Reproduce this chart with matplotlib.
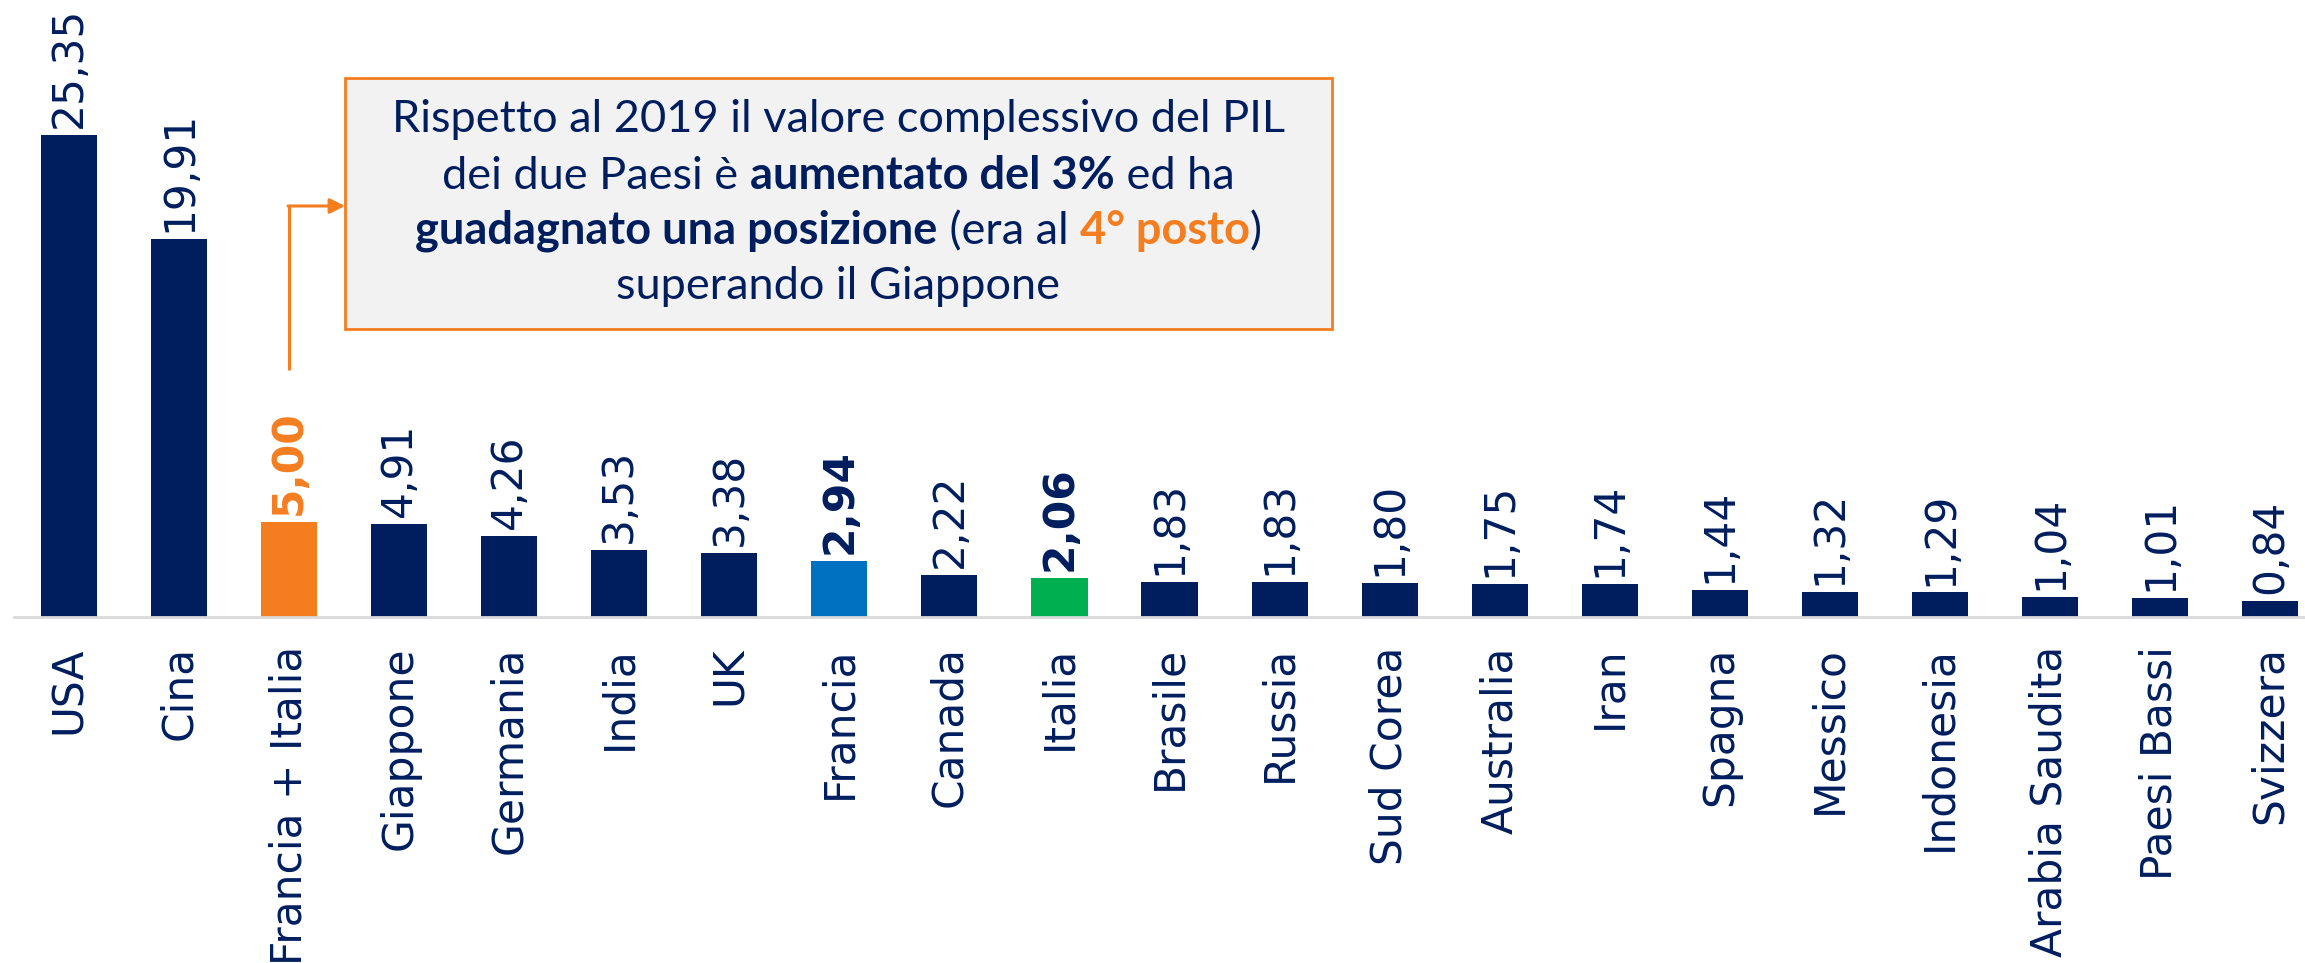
import matplotlib.pyplot as plt
from matplotlib.patches import Rectangle

# dati: PIL (migliaia di miliardi di $)
paesi = ['USA', 'Cina', 'Francia + Italia', 'Giappone', 'Germania', 'India', 'UK',
         'Francia', 'Canada', 'Italia', 'Brasile', 'Russia', 'Sud Corea', 'Australia',
         'Iran', 'Spagna', 'Messico', 'Indonesia', 'Arabia Saudita', 'Paesi Bassi', 'Svizzera']
pil = [25.35, 19.91, 5.00, 4.91, 4.26, 3.53, 3.38, 2.94, 2.22, 2.06, 1.83, 1.83,
       1.80, 1.75, 1.74, 1.44, 1.32, 1.29, 1.04, 1.01, 0.84]

NAVY = '#001E5E'
ORANGE = '#F47D20'
BLUE = '#0070C0'
GREEN = '#00B050'

colori = [NAVY] * len(paesi)
colori[paesi.index('Francia + Italia')] = ORANGE
colori[paesi.index('Francia')] = BLUE
colori[paesi.index('Italia')] = GREEN

evidenziati = ['Francia + Italia', 'Francia', 'Italia']

W, H = 2305, 963
fig = plt.figure(figsize=(W / 100, H / 100), dpi=100)
ax = fig.add_axes([14 / W, (H - 617) / H, 1 - 14 / W, 617 / H])

x = list(range(len(paesi)))
ax.bar(x, pil, width=0.51, color=colori, zorder=2)

for i, v in enumerate(pil):
    lab = f'{v:.2f}'.replace('.', ',')
    bold = paesi[i] in evidenziati
    col = ORANGE if paesi[i] == 'Francia + Italia' else NAVY
    ax.annotate(lab, (i, v), xytext=(0, 5), textcoords='offset points',
                rotation=90, ha='center', va='bottom', fontsize=30.5,
                color=col, fontweight='bold' if bold else 'normal')

ax.set_xlim(-0.5, -0.5 + 2291 / 110.05)
ax.set_ylim(0, 617 / 19.0)
ax.set_xticks(x)
ax.set_xticklabels(paesi, rotation=90, fontsize=30.5, color=NAVY, va='top')
ax.tick_params(axis='x', length=0, pad=21)
ax.set_yticks([])
for s in ['left', 'right', 'top']:
    ax.spines[s].set_visible(False)
ax.spines['bottom'].set_color('#D9D9D9')
ax.spines['bottom'].set_linewidth(2)

# riquadro di commento
bx0, by0, bx1, by1 = 345, 78, 1332, 329   # pixel (dall'alto)
fig.patches.append(Rectangle((bx0 / W, 1 - by1 / H), (bx1 - bx0) / W, (by1 - by0) / H,
                             transform=fig.transFigure, facecolor='#F2F2F2',
                             edgecolor=ORANGE, linewidth=2, zorder=5))

# connettore dalla barra Francia + Italia al riquadro
i_fi = paesi.index('Francia + Italia')
y_lo = (617 - 370) / 19.0
y_hi = (617 - 206) / 19.0
x_box = (bx0 - 14) / 110.05 - 0.5
ax.plot([i_fi, i_fi], [y_lo, y_hi], color=ORANGE, lw=2.2, solid_capstyle='butt', zorder=3)
ax.annotate('', xy=(x_box, y_hi), xytext=(i_fi - 0.01, y_hi),
            arrowprops=dict(arrowstyle='-|>,head_length=0.9,head_width=0.45',
                            color=ORANGE, lw=2.2, shrinkA=0, shrinkB=0))

righe = [
    [('Rispetto al 2019 il valore complessivo del PIL', 'normal', NAVY)],
    [('dei due Paesi è ', 'normal', NAVY), ('aumentato del 3%', 'bold', NAVY),
     (' ed ha', 'normal', NAVY)],
    [('guadagnato una posizione', 'bold', NAVY), (' (era al ', 'normal', NAVY),
     ('4° posto', 'bold', ORANGE), (')', 'normal', NAVY)],
    [('superando il Giappone', 'normal', NAVY)],
]
basi = [132, 189, 244, 299]
font_box = 'Lato'
fs_box = 32.5

r = fig.canvas.get_renderer()
cx = (bx0 + bx1) / 2
for riga, yb in zip(righe, basi):
    pezzi = []
    for testo, peso, col in riga:
        t = fig.text(0, 1 - yb / H, testo, fontsize=fs_box, family=font_box,
                     fontweight=peso, color=col, va='baseline', ha='left', zorder=6)
        pezzi.append(t)
    larg = [t.get_window_extent(renderer=r).width for t in pezzi]
    xs = cx - sum(larg) / 2
    for t, w in zip(pezzi, larg):
        t.set_x(xs / W)
        xs += w

fig.savefig('out.png', dpi=100)
